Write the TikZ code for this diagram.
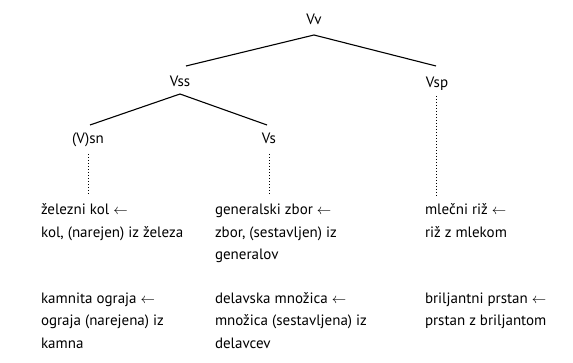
\documentclass[tikz,border=0pt]{standalone}
\usepackage{fontspec}
\setmainfont{PT Sans}
\newcommand{\larr}{$\leftarrow$}
\newcommand{\fl}{\rule{0pt}{13pt}}
\begin{document}
\begin{tikzpicture}[x=1pt,y=-1pt,
  lbl/.style={font=\fontsize{15}{22.5}\selectfont, inner sep=0pt, outer sep=0pt, anchor=base},
  txt/.style={font=\fontsize{15}{22.5}\selectfont, inner sep=0pt, outer sep=0pt, anchor=north west, align=left},
  branch/.style={line width=1.1pt},
  dots/.style={line width=1pt, dash pattern=on 1pt off 2pt}]
\useasboundingbox (0,0) rectangle (573,363);
% tree labels
\node[lbl] (vv) at (314,25) {Vv};
\node[lbl] (vss) at (180,87) {Vss};
\node[lbl] (vsp) at (437,88) {Vsp};
\node[lbl] (vsn) at (88,144) {(V)sn};
\node[lbl] (vs) at (269,144) {Vs};
% branches
\coordinate (a0) at (vv.south |- 0,35);
\coordinate (a1) at (186,66);
\coordinate (a2) at (436,66);
\draw[branch] (a1) -- (a0) -- (a2);
\coordinate (b0) at (vss.south |- 0,94);
\coordinate (b1) at (90,125);
\coordinate (b2) at (267,125);
\draw[branch] (b1) -- (b0) -- (b2);
% dotted lines
\coordinate (d1) at (88,196);
\coordinate (d2) at (269,196);
\coordinate (d3) at (436,196);
\draw[dots] (d1 |- 0,154) -- (d1);
\draw[dots] (d2 |- 0,154) -- (d2);
\draw[dots] (d3 |- 0,96) -- (d3);
% text blocks
\node[txt] (t1) at (41,202) {\fl železni kol \larr\\kol, (narejen) iz železa};
\node[txt] (t2) at (215,202) {\fl generalski zbor \larr\\zbor, (sestavljen) iz\\generalov};
\node[txt] (t3) at (425,202) {\fl mlečni riž \larr\\riž z mlekom};
\node[txt] (t4) at (41,290.5) {\fl kamnita ograja \larr\\ograja (narejena) iz\\kamna};
\node[txt] (t5) at (215,290.5) {\fl delavska množica \larr\\množica (sestavljena) iz\\delavcev};
\node[txt] (t6) at (425,290.5) {\fl briljantni prstan \larr\\prstan z briljantom};
\end{tikzpicture}
\end{document}
